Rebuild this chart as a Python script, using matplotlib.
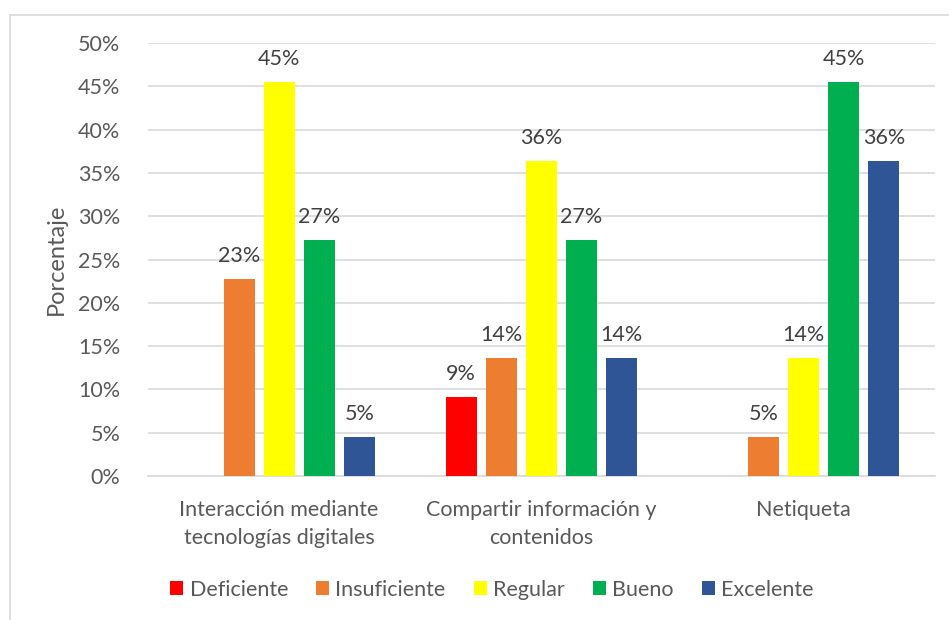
import numpy as np
import matplotlib.pyplot as plt
from matplotlib.lines import Line2D

categorias = ['Interacción mediante\ntecnologías digitales',
              'Compartir información y\ncontenidos',
              'Netiqueta']
niveles = ['Deficiente', 'Insuficiente', 'Regular', 'Bueno', 'Excelente']
colores = ['#ff0000', '#ed7d31', '#ffff00', '#00b050', '#2f5597']

# porcentajes por nivel (n = 22)
deficiente = [0.0, 9.09, 0.0]
insuficiente = [22.73, 13.64, 4.55]
regular = [45.45, 36.36, 13.64]
bueno = [27.27, 27.27, 45.45]
excelente = [4.55, 13.64, 36.36]
valores = [deficiente, insuficiente, regular, bueno, excelente]

plt.rcParams['font.family'] = ['Lato', 'DejaVu Sans']
gris = '#595959'

fig = plt.figure(figsize=(9.49, 6.2), dpi=100)
ax = fig.add_axes([0.156, 0.2323, 0.829, 0.6983])

x = np.arange(len(categorias))
ancho = 0.118
paso = 0.153
for i, (nivel, serie, c) in enumerate(zip(niveles, valores, colores)):
    pos = x + (i - 2) * paso
    ax.bar(pos, serie, ancho, color=c, label=nivel, zorder=3)
    for p, v in zip(pos, serie):
        if v > 0:
            ax.text(p, v + 1.5, '%d%%' % round(v), ha='center', va='bottom',
                    fontsize=15.5, color='#404040')

ax.set_ylim(0, 50)
ax.set_xlim(-0.5, 2.5)
ax.set_yticks(np.arange(0, 51, 5))
ax.set_yticklabels(['%d%%' % t for t in range(0, 51, 5)])
ax.yaxis.grid(True, color='#d9d9d9', linewidth=1.2, zorder=0)
ax.set_xticks(x)
ax.set_xticklabels(categorias, linespacing=1.5)
ax.tick_params(axis='both', length=0, labelsize=15.5, colors=gris)
ax.tick_params(axis='x', pad=17)
ax.tick_params(axis='y', pad=20)
for s in ['top', 'right', 'left']:
    ax.spines[s].set_visible(False)
ax.spines['bottom'].set_color('#d9d9d9')
ax.spines['bottom'].set_linewidth(1.2)
ax.set_ylabel('Porcentaje', fontsize=17, color=gris, labelpad=8)

ax.legend(loc='center', bbox_to_anchor=(0.437, -0.263), ncol=5, frameon=False,
          fontsize=15.5, labelcolor=gris, handlelength=0.6, handleheight=0.6,
          handletextpad=0.3, columnspacing=1.3)

# marco del gráfico
fig.add_artist(Line2D([10 / 949, 10 / 949], [0, 1 - 15 / 620],
                      color='#d9d9d9', linewidth=1.2))
fig.add_artist(Line2D([10 / 949, 1], [1 - 15 / 620, 1 - 15 / 620],
                      color='#d9d9d9', linewidth=1.2))

fig.savefig('out.png', dpi=100)
